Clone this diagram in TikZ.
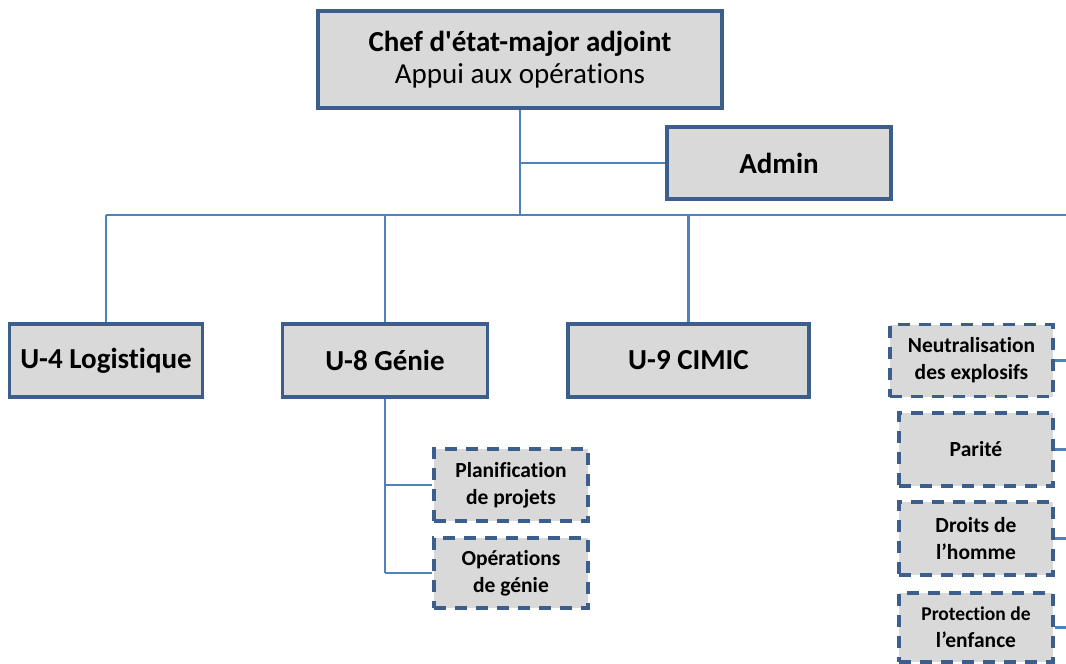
\documentclass[tikz,border=0pt]{standalone}
\usepackage{fontspec}
\setmainfont{Carlito}[Ligatures={NoCommon}]
% same face without the TeX quote mapping, for a straight apostrophe
\newfontfamily\straightfont{Carlito}[Ligatures={NoCommon}]
\definecolor{boxline}{HTML}{3B5E8C}
\definecolor{boxfill}{HTML}{D9D9D9}
\definecolor{wire}{HTML}{4F81BD}
\tikzset{
  unit/.style={draw=boxline, line width=3.2pt, fill=boxfill, inner sep=2pt,
    align=center, font=\fontsize{29}{32}\selectfont\bfseries},
  cell/.style={draw=boxline, line width=3.4pt, fill=boxfill, inner sep=2pt,
    dash pattern=on 12pt off 9pt, align=center,
    font=\fontsize{21.5}{27}\selectfont\bfseries},
  link/.style={draw=wire, line width=2.4pt},
}
\begin{document}
\begin{tikzpicture}[x=1pt, y=-1pt]
\useasboundingbox (0,0) rectangle (1066,664);

% headquarters and staff cell
\node[unit, minimum width=404pt, minimum height=97pt] (chef) at (520,59.5)
  {Chef d{\straightfont\bfseries '}état-major adjoint\\{\mdseries Appui aux opérations}};
\node[unit, minimum width=224pt, minimum height=72pt] (admin) at (779,163) {Admin};

% branches
\node[unit, minimum width=193pt, minimum height=73pt] (u4) at (106,360.5) {U-4 Logistique};
\node[unit, minimum width=205pt, minimum height=73pt] (u8) at (385,360.5) {U-8 Génie};
\node[unit, minimum width=241pt, minimum height=73pt] (u9) at (688.5,360.5) {U-9 CIMIC};

% engineering sub-cells
\node[cell, minimum width=154pt, minimum height=72pt] (plan) at (511,485) {Planification\\de projets};
\node[cell, minimum width=154pt, minimum height=70pt] (genie) at (511,573) {Opérations\\de génie};

% cells on the right-hand side
\node[cell, minimum width=163pt, minimum height=72pt] (neut) at (971.5,360.5) {Neutralisation\\des explosifs};
\node[cell, minimum width=154pt, minimum height=73pt] (parite) at (976,449.5) {Parité};
\node[cell, minimum width=154pt, minimum height=73pt] (droits) at (976,538.5) {Droits de\\l’homme};
\node[cell, minimum width=154pt, minimum height=69pt] (enfance) at (976,627.5)
  {\fontsize{19.5}{23}\selectfont Protection de\\l’enfance};

% bus line and right edge
\coordinate (bus) at (1066,215);
\coordinate (edge) at (1066,0);

% connectors
\draw[link] (chef.south) -- (chef.south |- bus);
\draw[link] (chef.south |- admin.west) -- (admin.west);
\draw[link] (u4.north |- bus) -- (bus);
\draw[link] (u4.north) -- (u4.north |- bus);
\draw[link] (u8.north) -- (u8.north |- bus);
\draw[link] (u9.north) -- (u9.north |- bus);
\draw[link] (u8.south) -- (u8.south |- genie.west);
\draw[link] (u8.south |- plan.west) -- (plan.west);
\draw[link] (u8.south |- genie.west) -- (genie.west);
\draw[link] (neut.east) -- (neut.east -| edge);
\draw[link] (parite.east) -- (parite.east -| edge);
\draw[link] (droits.east) -- (droits.east -| edge);
\draw[link] (enfance.east) -- (enfance.east -| edge);
\end{tikzpicture}
\end{document}
